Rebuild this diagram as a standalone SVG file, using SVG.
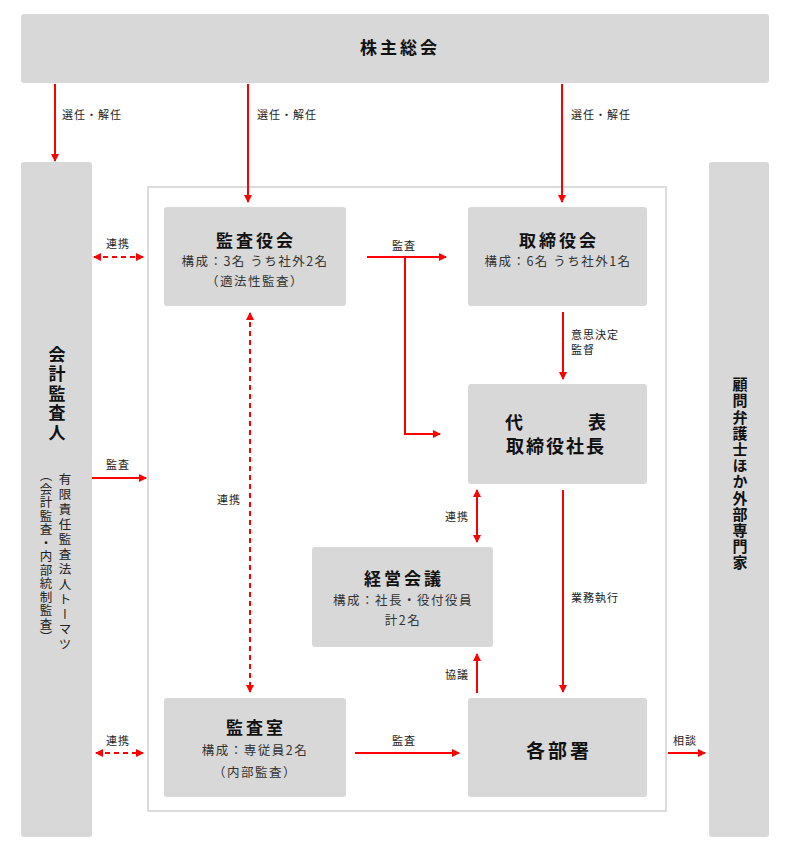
<svg xmlns="http://www.w3.org/2000/svg" width="786" height="863" viewBox="0 0 786 863">
<defs>
<marker id="ah" viewBox="0 0 8 8" markerWidth="8" markerHeight="8" refX="7" refY="4" orient="auto-start-reverse" markerUnits="userSpaceOnUse">
<path d="M0,0 L8,4 L0,8 z" fill="#ff0000"/>
</marker>
<style>
.box{fill:#d8d8d8;}
.t{font-family:"Noto Sans CJK JP","Noto Sans",sans-serif;fill:#111;}
.title{font-size:17px;font-weight:700;letter-spacing:3px;text-anchor:middle;}
.sub{font-size:12.5px;fill:#333;letter-spacing:1.5px;text-anchor:middle;}
.lbl{font-size:11px;fill:#222;letter-spacing:1px;}
.ln{stroke:#ff0000;stroke-width:2;fill:none;}
.dash{stroke-dasharray:5,4;}
.vt{writing-mode:vertical-rl;}
</style>
</defs>
<rect x="0" y="0" width="786" height="863" fill="#fff"/>
<g id="frame"><rect x="148" y="187" width="518" height="624" fill="none" stroke="#dcdcdc" stroke-width="2"/></g>

<g id="shareholders"><rect class="box" x="21" y="14" width="748" height="69" rx="3"/>
<text class="t title" x="400" y="54">株主総会</text></g>

<g id="auditor"><rect class="box" x="21" y="162" width="71" height="675" rx="3"/>
<text class="t vt" x="57" y="346" style="font-size:17px;font-weight:700;letter-spacing:2.5px;">会計監査人</text>
<text class="t vt" x="65" y="473" style="font-size:12.5px;letter-spacing:2.5px;fill:#222;">有限責任監査法人トーマツ</text>
<text class="t vt" x="46" y="469" style="font-size:12.5px;letter-spacing:1px;fill:#222;">（会計監査・内部統制監査）</text></g>

<g id="advisors"><rect class="box" x="709" y="162" width="60" height="675" rx="3"/>
<text class="t vt" x="740" y="377" style="font-size:15px;font-weight:700;letter-spacing:1.2px;">顧問弁護士ほか外部専門家</text></g>

<g id="kansayakukai"><rect class="box" x="164" y="207" width="182" height="99" rx="3"/>
<text class="t title" x="256" y="247">監査役会</text>
<text class="t sub" x="255" y="266">構成：3名 うち社外2名</text>
<text class="t sub" x="255" y="286">（適法性監査）</text></g>

<g id="torishimariyakukai"><rect class="box" x="468" y="207" width="179" height="99" rx="3"/>
<text class="t title" x="559" y="247">取締役会</text>
<text class="t sub" x="558" y="266">構成：6名 うち社外1名</text></g>

<g id="president"><rect class="box" x="468" y="384" width="179" height="100" rx="3"/>
<text class="t" x="514" y="429" style="font-size:18px;font-weight:700;text-anchor:middle;">代</text>
<text class="t" x="597" y="429" style="font-size:18px;font-weight:700;text-anchor:middle;">表</text>
<text class="t" x="556" y="453" style="font-size:18px;font-weight:700;letter-spacing:2px;text-anchor:middle;">取締役社長</text></g>

<g id="keieikaigi"><rect class="box" x="312" y="547" width="181" height="100" rx="3"/>
<text class="t title" x="404" y="585">経営会議</text>
<text class="t sub" x="403" y="605">構成：社長・役付役員</text>
<text class="t sub" x="403" y="625">計2名</text></g>

<g id="kansashitsu"><rect class="box" x="164" y="698" width="182" height="99" rx="3"/>
<text class="t title" x="256" y="734">監査室</text>
<text class="t sub" x="255" y="755">構成：専従員2名</text>
<text class="t sub" x="255" y="777">（内部監査）</text></g>

<g id="kakubusho"><rect class="box" x="468" y="698" width="179" height="99" rx="3"/>
<text class="t title" x="559" y="758" style="font-size:19px;">各部署</text></g>

<g id="connectors">
<path class="ln" d="M55,84 V161" marker-end="url(#ah)"/>
<path class="ln" d="M248,84 V202" marker-end="url(#ah)"/>
<path class="ln" d="M562,84 V202" marker-end="url(#ah)"/>
<path class="ln dash" d="M94,257 H143" marker-start="url(#ah)" marker-end="url(#ah)"/>
<path class="ln" d="M92,478 H146" marker-end="url(#ah)"/>
<path class="ln dash" d="M96,753 H143" marker-start="url(#ah)" marker-end="url(#ah)"/>
<path class="ln" d="M367,257 H446" marker-end="url(#ah)"/>
<path class="ln" d="M405,257 V434 H440" marker-end="url(#ah)"/>
<path class="ln" d="M563,312 V379" marker-end="url(#ah)"/>
<path class="ln dash" d="M250,313 V692" marker-start="url(#ah)" marker-end="url(#ah)"/>
<path class="ln" d="M477,490 V542" marker-start="url(#ah)" marker-end="url(#ah)"/>
<path class="ln" d="M563,490 V692" marker-end="url(#ah)"/>
<path class="ln" d="M477,693 V654" marker-end="url(#ah)"/>
<path class="ln" d="M355,753 H459" marker-end="url(#ah)"/>
<path class="ln" d="M668,753 H705" marker-end="url(#ah)"/>
<text class="t lbl" x="62" y="119">選任・解任</text>
<text class="t lbl" x="257" y="119">選任・解任</text>
<text class="t lbl" x="571" y="119">選任・解任</text>
<text class="t lbl" x="106" y="248">連携</text>
<text class="t lbl" x="106" y="469">監査</text>
<text class="t lbl" x="106" y="745">連携</text>
<text class="t lbl" x="392" y="250">監査</text>
<text class="t lbl" x="571" y="339">意思決定</text>
<text class="t lbl" x="571" y="354">監督</text>
<text class="t lbl" x="217" y="504">連携</text>
<text class="t lbl" x="445" y="521">連携</text>
<text class="t lbl" x="571" y="602">業務執行</text>
<text class="t lbl" x="445" y="679">協議</text>
<text class="t lbl" x="392" y="745">監査</text>
<text class="t lbl" x="673" y="745">相談</text>
</g>
</svg>
